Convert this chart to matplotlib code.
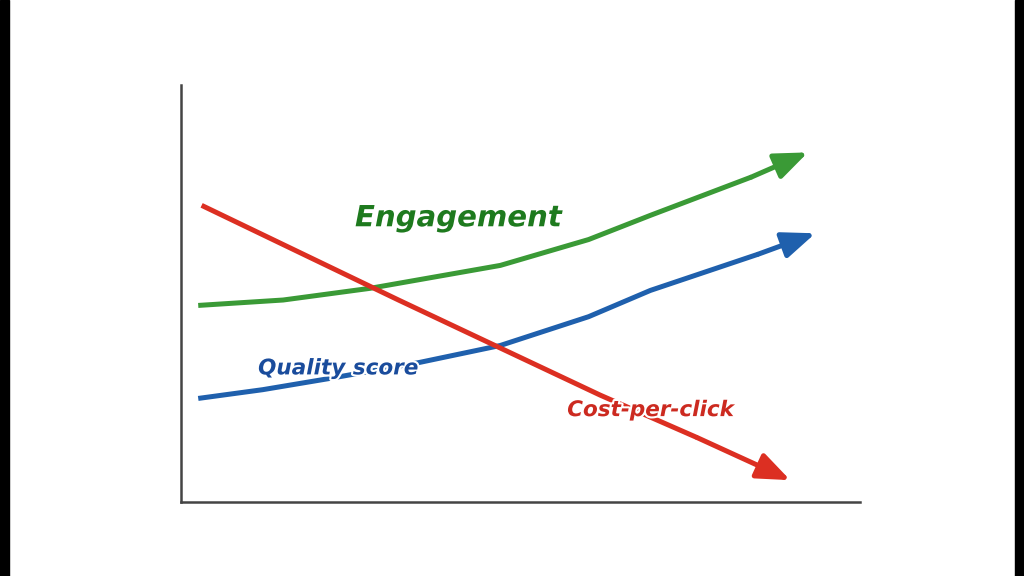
import matplotlib
matplotlib.use('Agg')
import matplotlib.pyplot as plt
from matplotlib.patches import Rectangle
import matplotlib.patheffects as pe

# curve points (x 0..10, y 0..10)
eng_x = [0.25, 1.5, 2.78, 4.70, 6.0, 6.91, 8.4, 9.23]
eng_y = [4.72, 4.85, 5.13, 5.68, 6.3, 6.88, 7.8, 8.39]
qs_x = [0.25, 1.2, 2.19, 3.5, 4.70, 6.0, 6.91, 8.5, 9.34]
qs_y = [2.49, 2.70, 2.97, 3.35, 3.76, 4.45, 5.08, 5.95, 6.45]
cpc_x = [0.30, 3.2, 6.17, 7.6, 8.97]
cpc_y = [7.12, 4.85, 2.57, 1.55, 0.53]

series = [
    (eng_x, eng_y, '#3a9a36'),
    (qs_x, qs_y, '#1f60ad'),
    (cpc_x, cpc_y, '#dc2f22'),
]

fig = plt.figure(figsize=(10.24, 5.76), dpi=100)
fig.patch.set_facecolor('white')
# dark side borders
fig.patches.append(Rectangle((0, 0), 0.009, 1, transform=fig.transFigure, color='black'))
fig.patches.append(Rectangle((0.991, 0), 0.009, 1, transform=fig.transFigure, color='black'))

ax = fig.add_axes([0.177, 0.128, 0.663, 0.724])
ax.set_xlim(0, 10)
ax.set_ylim(0, 10)
ax.spines['top'].set_visible(False)
ax.spines['right'].set_visible(False)
for s in ('left', 'bottom'):
    ax.spines[s].set_color('#444444')
    ax.spines[s].set_linewidth(1.8)
ax.set_xticks([])
ax.set_yticks([])

for xs, ys, c in series:
    ax.plot(xs[:-1], ys[:-1], color=c, lw=3.6, solid_capstyle='butt')
    ax.annotate('', xy=(xs[-1], ys[-1]), xytext=(xs[-2], ys[-2]),
                arrowprops=dict(arrowstyle='-|>,head_length=2.0,head_width=0.8',
                                color=c, lw=3.6, shrinkA=0, shrinkB=0))

halo = [pe.withStroke(linewidth=3, foreground='white')]
ax.text(4.08, 6.81, 'Engagement', color='#1e7a1e', fontsize=21,
        fontweight='bold', fontstyle='italic', ha='center', va='center',
        path_effects=halo)
ax.text(2.31, 3.21, 'Quality score', color='#1a4c9c', fontsize=15.5,
        fontweight='bold', fontstyle='italic', ha='center', va='center',
        path_effects=halo)
ax.text(6.91, 2.21, 'Cost-per-click', color='#cc2a20', fontsize=15.5,
        fontweight='bold', fontstyle='italic', ha='center', va='center',
        path_effects=halo)

fig.savefig('out.png', dpi=100)
